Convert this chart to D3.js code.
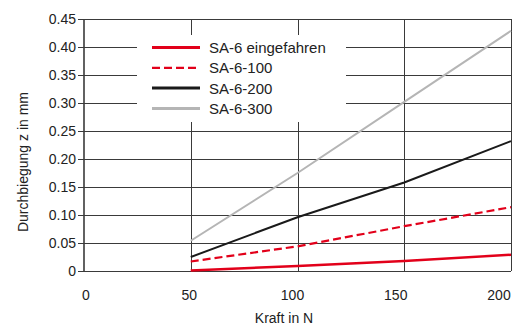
<!DOCTYPE html>
<html>
<head>
<meta charset="utf-8">
<script src="https://cdn.jsdelivr.net/npm/d3@7"></script>
<style>
  body { margin: 0; background: #fff; }
  svg text { font-family: "Liberation Sans", Arial, sans-serif; font-size: 14px; fill: #222; }
</style>
</head>
<body>
<svg id="chart" width="518" height="327"></svg>
<script>
(function() {
  // data
  const kraft = [50, 100, 150, 200];
  const eingefahren = [0.001, 0.009, 0.018, 0.029];
  const sa100 = [0.017, 0.044, 0.080, 0.114];
  const sa200 = [0.025, 0.096, 0.158, 0.232];
  const sa300 = [0.054, 0.175, 0.302, 0.429];
  const seriesNames = ['SA-6 eingefahren', 'SA-6-100', 'SA-6-200', 'SA-6-300'];
  const xTicks = [0, 50, 100, 150, 200];
  const yTicks = [0, 0.05, 0.10, 0.15, 0.20, 0.25, 0.30, 0.35, 0.40, 0.45];

  const series = [
    {name: seriesNames[0], values: eingefahren, color: '#e2001a', width: 2.5, dash: null},
    {name: seriesNames[1], values: sa100, color: '#e2001a', width: 2.2, dash: '8,4'},
    {name: seriesNames[2], values: sa200, color: '#1a1a1a', width: 2, dash: null},
    {name: seriesNames[3], values: sa300, color: '#b5b5b5', width: 2, dash: null}
  ];

  const svg = d3.select('#chart');
  const margin = {top: 19, right: 7, bottom: 56, left: 84};
  const width = 518, height = 327;

  const x = d3.scaleLinear().domain([0, 200]).range([margin.left, width - margin.right]);
  const y = d3.scaleLinear().domain([0, 0.45]).range([height - margin.bottom, margin.top]);
  const labelX = x.copy().range([86, 499]);

  // grid
  const grid = svg.append('g').attr('stroke', '#3a3a3a').attr('stroke-width', 1);
  grid.selectAll('line.h')
    .data(yTicks)
    .enter()
    .append('line')
    .attr('x1', margin.left - 6)
    .attr('x2', width - margin.right)
    .attr('y1', d => Math.round(y(d)) + 0.5)
    .attr('y2', d => Math.round(y(d)) + 0.5);
  grid.selectAll('line.v')
    .data(xTicks.slice(1))
    .enter()
    .append('line')
    .attr('x1', d => Math.round(x(d)) + 0.5)
    .attr('x2', d => Math.round(x(d)) + 0.5)
    .attr('y1', y(0.45))
    .attr('y2', y(0));

  // legend background clears the grid
  svg.append('rect')
    .attr('x', 137).attr('y', 35)
    .attr('width', 209).attr('height', 87)
    .attr('fill', '#fff');

  // y axis line
  svg.append('line')
    .attr('x1', x(0)).attr('x2', x(0))
    .attr('y1', y(0.45)).attr('y2', y(0) + 0.5)
    .attr('stroke', '#3a3a3a').attr('stroke-width', 1.6);

  // y tick labels
  svg.append('g').selectAll('text')
    .data(yTicks)
    .enter()
    .append('text')
    .attr('x', 76)
    .attr('y', d => y(d))
    .attr('dy', '0.36em')
    .attr('text-anchor', 'end')
    .text(d => d === 0 ? '0' : d3.format('.2f')(d));

  // x tick labels
  svg.append('g').selectAll('text')
    .data(xTicks)
    .enter()
    .append('text')
    .attr('x', d => labelX(d))
    .attr('y', 300)
    .attr('text-anchor', 'middle')
    .text(d => d);

  svg.append('text')
    .attr('x', 284).attr('y', 323)
    .attr('text-anchor', 'middle')
    .text('Kraft in N');

  svg.append('text')
    .attr('transform', 'translate(28,162) rotate(-90)')
    .attr('text-anchor', 'middle')
    .text('Durchbiegung z in mm');

  // lines
  const line = d3.line()
    .x((d, i) => x(kraft[i]))
    .y(d => y(d));
  svg.append('g').selectAll('path')
    .data(series)
    .enter()
    .append('path')
    .attr('d', d => line(d.values))
    .attr('fill', 'none')
    .attr('stroke', d => d.color)
    .attr('stroke-width', d => d.width)
    .attr('stroke-dasharray', d => d.dash);

  // legend
  const legend = svg.append('g').selectAll('g')
    .data(series)
    .enter()
    .append('g')
    .attr('transform', (d, i) => 'translate(152,' + (47.5 + i * 20.3) + ')');
  legend.append('line')
    .attr('x1', 0).attr('x2', 48)
    .attr('stroke', d => d.color)
    .attr('stroke-width', d => d.dash ? 2.2 : 3)
    .attr('stroke-dasharray', d => d.dash);
  legend.append('text')
    .attr('x', 57)
    .attr('dy', '0.36em')
    .style('font-size', '15px')
    .text(d => d.name);
})();
</script>
</body>
</html>
